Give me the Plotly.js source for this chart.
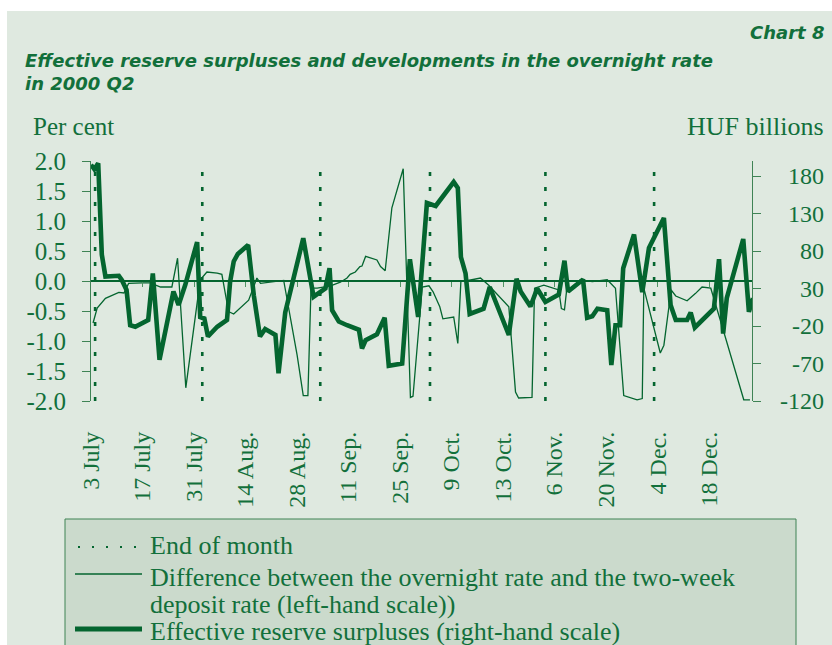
<!DOCTYPE html>
<html><head><meta charset="utf-8">
<script src="https://cdn.plot.ly/plotly-3.0.1.min.js"></script>
<style>
html,body{margin:0;padding:0;background:#ffffff;width:832px;height:645px;overflow:hidden}
#chart{position:absolute;left:7px;top:11px;width:825px;height:634px}
</style>
</head><body><div id="chart"></div>
<script>
// ---- data (trading-day index from 3 July 2000) ----
const tickDays = [0,10,20,30,40,50,60,70,80,90,100,110,120];
const tickLabels = ['3 July','17 July','31 July','14 Aug.','28 Aug.','11 Sep.','25 Sep.','9 Oct.','13 Oct.','6 Nov.','20 Nov.','4 Dec.','18 Dec.'];
const monthEndDays = [0.8, 21.6, 44.5, 65.8, 88.2, 109.3];

// Difference between the overnight rate and the two-week deposit rate (per cent, left scale)
const spreadDays = [0.4,1.2,2.8,5.4,6.4,7.3,9.9,11.5,13.5,15.7,16.8,18.4,21.2,22.5,24.5,25.4,26.7,27.7,30.6,32.2,32.9,37.4,40.0,41.2,42.1,42.7,43.9,46.5,48.4,49.7,50.3,51.3,52.2,52.6,53.3,55.5,56.2,57.1,58.4,60.6,62.0,62.5,64.3,65.6,66.4,67.2,67.7,68.3,70.4,71.2,71.8,72.7,75.6,77.2,81.1,82.4,83.0,85.6,86.1,87.9,90.8,91.3,91.9,92.3,93.4,95.0,97.3,100.2,101.8,103.4,106.0,107.0,107.3,110.5,111.2,112.6,113.5,115.7,116.7,117.3,118.6,120.3,122.9,126.7,127.9];
const spreadValues = [-0.70,-0.45,-0.29,-0.19,-0.20,-0.04,-0.03,-0.03,-0.10,-0.10,0.38,-1.78,0.02,0.15,0.13,0.11,-0.51,-0.55,-0.32,0.05,-0.04,0.01,-1.23,-1.91,-1.91,-0.12,-0.12,-0.08,-0.02,0.05,0.11,0.15,0.24,0.25,0.41,0.35,0.24,0.17,1.22,1.87,-1.94,-1.92,-0.10,-0.08,-0.18,-0.35,-0.43,-0.63,-0.60,-1.04,0.00,0.00,0.05,-0.07,-0.43,-1.85,-1.95,-1.94,-0.12,-0.07,-0.15,-0.46,-0.48,-0.17,-0.10,0.02,-0.01,0.02,-0.12,-1.91,-1.98,-1.96,-0.12,-1.20,-1.07,-0.15,-0.25,-0.33,-0.26,-0.21,-0.10,-0.12,-0.87,-1.98,-1.98];

// Effective reserve surpluses (HUF billions, right scale)
const surplusDays = [0.0,0.65,1.4,2.1,2.8,5.4,6.0,6.9,7.6,8.6,11.1,12.0,13.3,16.0,17.0,18.3,20.6,21.2,22.0,22.7,24.5,26.4,27.0,27.7,28.5,30.5,31.6,32.8,33.8,35.8,36.4,37.7,41.2,43.2,45.5,46.3,46.8,48.1,49.7,52.0,52.6,53.3,55.5,57.0,57.8,60.4,61.9,63.5,65.2,66.9,70.4,71.2,71.8,72.7,73.5,75.0,76.2,77.4,81.1,82.6,83.4,85.3,86.6,88.2,90.8,91.9,92.6,95.5,96.3,97.3,98.3,100.2,101.0,101.8,102.7,103.3,105.4,107.0,108.3,111.2,112.5,113.5,115.7,116.4,117.2,120.9,121.9,122.7,123.4,126.6,127.7,128.5];
const surplusValues = [195,189,197,75,46,47,41,28,-19,-21,-12,50,-65,26,8,35,92,-8,-10,-34,-21,-12,39,66,76,88,21,-34,-24,-32,-83,-2,97,19,30,57,1,-14,-19,-25,-50,-39,-31,-9,-73,-70,69,-8,144,140,172,164,72,50,-4,0,3,32,-32,43,26,6,30,12,22,67,26,42,-9,-7,3,1,-72,-19,-19,57,102,25,84,124,8,-12,-12,-2,-22,3,69,-30,17,96,-1,17];

const leftTicks = [2,1.5,1,0.5,0,-0.5,-1,-1.5,-2];
const leftTickLabels = ['2.0','1.5','1.0','0.5','0.0','-0.5','-1.0','-1.5','-2.0'];
const rightTicks = [180,130,80,30,-20,-70,-120];
const rightTickLabels = ['180','130','80','30','-20','-70','-120'];

// ---- styling ----
const LINE = '#04652f';
const TXT = '#12703b';
const SERIF = 'Liberation Serif, Times New Roman, serif';
const SANS = 'DejaVu Sans, Open Sans, sans-serif';
const PL = 91, PR = 752, PT = 161, PB = 401; // plot area in page px
const xp = px => (px - PL) / (PR - PL);
const yp = py => (PB - py) / (PB - PT);

const monthX = [], monthY = [];
monthEndDays.forEach(d => { monthX.push(d, d, null); monthY.push(-2, 2, null); });

const traces = [
  {x: monthX, y: monthY, xaxis: 'x', yaxis: 'y', mode: 'lines', hoverinfo: 'skip',
   line: {color: LINE, width: 2.6, dash: '4px,11px'}},
  {x: spreadDays, y: spreadValues, xaxis: 'x2', yaxis: 'y', mode: 'lines',
   line: {color: LINE, width: 1.3}},
  {x: surplusDays, y: surplusValues, xaxis: 'x', yaxis: 'y2', mode: 'lines',
   line: {color: LINE, width: 4.6}}
];

const annotations = [
  {text: 'Chart 8', x: xp(826), y: yp(33), xanchor: 'right', yanchor: 'middle',
   font: {family: SANS, size: 18, color: TXT, style: 'italic', weight: 'bold'}},
  {text: 'Effective reserve surpluses and developments in the overnight rate<br>in 2000 Q2', x: xp(23), y: yp(72), xanchor: 'left', yanchor: 'middle', align: 'left',
   font: {family: SANS, size: 18, color: TXT, style: 'italic', weight: 'bold'}},
  {text: 'Per cent', x: xp(31), y: yp(126), xanchor: 'left', yanchor: 'middle',
   font: {family: SERIF, size: 25, color: TXT}},
  {text: 'HUF billions', x: xp(826), y: yp(126), xanchor: 'right', yanchor: 'middle',
   font: {family: SERIF, size: 26, color: TXT}},
  {text: 'End of month', x: xp(148), y: yp(545), xanchor: 'left', yanchor: 'middle',
   font: {family: SERIF, size: 26, color: TXT}},
  {text: 'Difference between the overnight rate and the two-week', x: xp(148), y: yp(577), xanchor: 'left', yanchor: 'middle',
   font: {family: SERIF, size: 26, color: TXT}},
  {text: 'deposit rate (left-hand scale))', x: xp(148), y: yp(604), xanchor: 'left', yanchor: 'middle',
   font: {family: SERIF, size: 26, color: TXT}},
  {text: 'Effective reserve surpluses (right-hand scale)', x: xp(148), y: yp(631), xanchor: 'left', yanchor: 'middle',
   font: {family: SERIF, size: 26, color: TXT}}
];
rightTicks.forEach((v, i) => annotations.push({
  text: rightTickLabels[i], x: xp(826), y: v, xref: 'paper', yref: 'y2',
  xanchor: 'right', yanchor: 'middle', showarrow: false,
  font: {family: SERIF, size: 24, color: TXT}}));
annotations.forEach(a => { a.showarrow = false; if (!a.xref) { a.xref = 'paper'; a.yref = 'paper'; } });

const shapes = [
  {type: 'rect', xref: 'paper', yref: 'paper', x0: xp(65), x1: xp(796), y0: yp(660), y1: yp(519),
   fillcolor: '#cbdacc', line: {color: '#3f8355', width: 1}, layer: 'below'},
  {type: 'line', xref: 'paper', yref: 'paper', x0: xp(78), x1: xp(143), y0: yp(547), y1: yp(547),
   line: {color: LINE, width: 2, dash: '2px,12px'}},
  {type: 'line', xref: 'paper', yref: 'paper', x0: xp(75), x1: xp(142), y0: yp(574), y1: yp(574),
   line: {color: LINE, width: 1.3}},
  {type: 'line', xref: 'paper', yref: 'paper', x0: xp(75), x1: xp(142), y0: yp(629), y1: yp(629),
   line: {color: LINE, width: 5}}
];

const layout = {
  width: 825, height: 634,
  margin: {l: PL - 7, r: 832 - PR, t: PT - 11, b: 645 - PB, pad: 0},
  paper_bgcolor: '#dfe9e0', plot_bgcolor: 'rgba(0,0,0,0)',
  showlegend: false,
  xaxis: {range: [0, 128.3], tickvals: tickDays, ticktext: tickLabels, tickangle: -90,
    ticks: '', showline: false, showgrid: false, zeroline: false, fixedrange: true,
    ticklabelstandoff: 25, tickfont: {family: SERIF, size: 24, color: TXT}},
  xaxis2: {range: [0, 128.3], overlaying: 'x', anchor: 'free', position: 0.5, side: 'bottom',
    tickvals: tickDays.slice(1), ticks: 'outside', ticklen: 5, tickwidth: 1, tickcolor: '#4f9463',
    showticklabels: false, showline: false, showgrid: false, zeroline: false},
  yaxis: {range: [-2, 2], tickvals: leftTicks, ticktext: leftTickLabels, ticks: 'outside', ticklen: 8,
    tickcolor: '#3f8355', showline: true, linecolor: '#3f8355', linewidth: 1, showgrid: false,
    zeroline: true, zerolinecolor: LINE, zerolinewidth: 1.5, ticklabelstandoff: 11,
    tickfont: {family: SERIF, size: 25, color: TXT}},
  yaxis2: {range: [-120, 200], overlaying: 'y', side: 'right', anchor: 'x', tickvals: rightTicks,
    ticks: 'outside', ticklen: 8, tickcolor: '#3f8355', showline: true, linecolor: '#3f8355', linewidth: 1,
    showticklabels: false, showgrid: false, zeroline: false},
  annotations: annotations,
  shapes: shapes
};

Plotly.newPlot('chart', traces, layout, {displayModeBar: false, staticPlot: true});
</script>
</body></html>
